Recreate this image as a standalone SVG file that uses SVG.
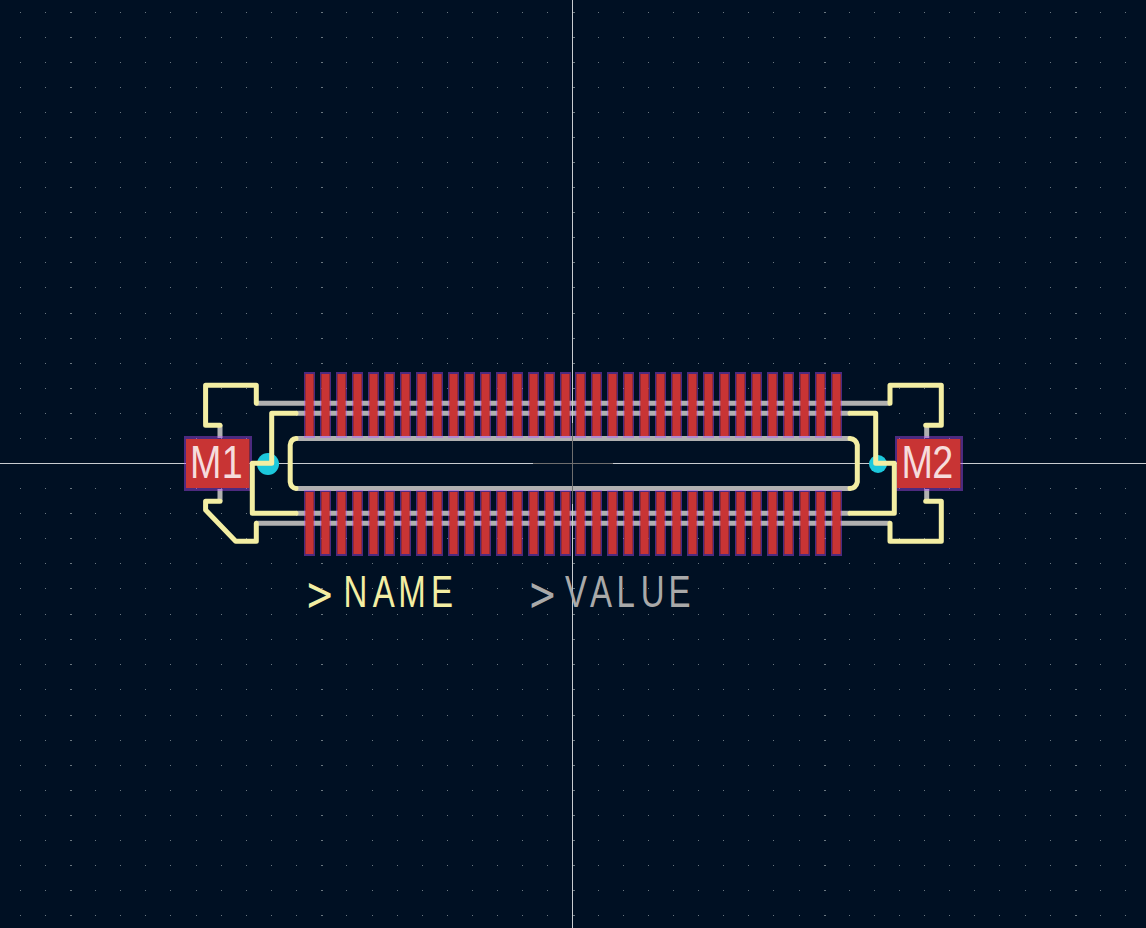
<svg xmlns="http://www.w3.org/2000/svg" width="1146" height="928" viewBox="0 0 1146 928">
<style>
.bg{fill:#001023}
.dot{fill:#6a7780}
.cross{fill:#c8ccd0}
.crossdim{fill:#6e6e6e}
.fab{fill:none;stroke:#b0b0b0;stroke-width:5;stroke-linecap:butt}
.ring{fill:rgb(183,78,254);fill-opacity:.42;fill-rule:evenodd}
.cu{fill:#c83434}
.hole{fill:#1cc8dc}
.silk{fill:none;stroke:#f3eea3;stroke-width:5;stroke-linecap:round;stroke-linejoin:round}
.padtxt{font-family:"Liberation Sans",sans-serif;font-size:46px;fill:#f6dcdc}
.lab{font-family:"Liberation Sans",sans-serif;font-size:44px}
.gt{font-family:"DejaVu Sans",sans-serif;font-size:46px}
</style>
<defs>
<path id="dotrow" class="dot" d="M20 0h1v1h-1zM45 0h1v1h-1zM70 0h2v1h-2zM95 0h1v1h-1zM120 0h1v1h-1zM145 0h1v1h-1zM170 0h1v1h-1zM196 0h1v1h-1zM221 0h1v1h-1zM246 0h1v1h-1zM271 0h1v1h-1zM296 0h1v1h-1zM321 0h2v1h-2zM346 0h1v1h-1zM372 0h1v1h-1zM397 0h1v1h-1zM422 0h1v1h-1zM447 0h1v1h-1zM472 0h1v1h-1zM497 0h1v1h-1zM522 0h1v1h-1zM547 0h1v1h-1zM573 0h2v1h-2zM598 0h1v1h-1zM623 0h1v1h-1zM648 0h1v1h-1zM673 0h1v1h-1zM698 0h1v1h-1zM723 0h1v1h-1zM748 0h1v1h-1zM773 0h1v1h-1zM799 0h1v1h-1zM824 0h2v1h-2zM849 0h1v1h-1zM874 0h1v1h-1zM899 0h1v1h-1zM924 0h1v1h-1zM949 0h1v1h-1zM974 0h1v1h-1zM999 0h1v1h-1zM1025 0h1v1h-1zM1050 0h1v1h-1zM1075 0h2v1h-2zM1100 0h1v1h-1zM1125 0h1v1h-1z"/>
<g id="padT"><path class="ring" d="M0 372h11v66h-11zM1.300 374v62h8.400v-62z"/><rect class="cu" x="1.300" y="374" width="8.400" height="62"/></g>
<g id="padB"><path class="ring" d="M0 490h11v66h-11zM1.300 492v62h8.400v-62z"/><rect class="cu" x="1.300" y="492" width="8.400" height="62"/></g>
<g id="padPair"><use href="#padT"/><use href="#padB"/></g>
</defs>
<rect class="bg" width="1146" height="928"/>
<g id="grid">
<use href="#dotrow" y="12"/><use href="#dotrow" y="37"/><use href="#dotrow" y="62"/><use href="#dotrow" y="87"/><use href="#dotrow" y="112"/><use href="#dotrow" y="137"/><use href="#dotrow" y="162"/><use href="#dotrow" y="187"/><use href="#dotrow" y="212"/><use href="#dotrow" y="237"/><use href="#dotrow" y="262"/><use href="#dotrow" y="287"/><use href="#dotrow" y="313"/><use href="#dotrow" y="338"/><use href="#dotrow" y="363"/><use href="#dotrow" y="388"/><use href="#dotrow" y="413"/><use href="#dotrow" y="438"/><use href="#dotrow" y="463"/><use href="#dotrow" y="488"/><use href="#dotrow" y="513"/><use href="#dotrow" y="538"/><use href="#dotrow" y="563"/><use href="#dotrow" y="588"/><use href="#dotrow" y="614"/><use href="#dotrow" y="639"/><use href="#dotrow" y="664"/><use href="#dotrow" y="689"/><use href="#dotrow" y="715"/><use href="#dotrow" y="740"/><use href="#dotrow" y="765"/><use href="#dotrow" y="790"/><use href="#dotrow" y="815"/><use href="#dotrow" y="840"/><use href="#dotrow" y="865"/><use href="#dotrow" y="890"/><use href="#dotrow" y="915"/>
</g>
<g id="fabrication">
<path class="fab" d="M256 403.3H890M296 413.3H850M296 438.5H850M296 488.5H850M296 513.3H850M256 523.3H890"/>
<path class="fab" d="M220 425V438M220 489V501.5M926.7 425V438M926.7 489V501.5"/>
</g>
<g id="crosshair">
<rect class="cross" x="0" y="463" width="533" height="1"/><rect class="crossdim" x="533" y="463" width="80" height="1"/><rect class="cross" x="613" y="463" width="533" height="1"/>
<rect class="cross" x="572" y="0" width="1" height="423"/><rect class="crossdim" x="572" y="423" width="1" height="81"/><rect class="cross" x="572" y="504" width="1" height="424"/>
</g>
<g id="holes">
<circle class="hole" cx="268" cy="464" r="11"/>
<circle class="hole" cx="878" cy="464" r="9"/>
</g>
<g id="pads">
<use href="#padPair" x="304"/><use href="#padPair" x="320"/><use href="#padPair" x="336"/><use href="#padPair" x="352"/><use href="#padPair" x="368"/><use href="#padPair" x="384"/><use href="#padPair" x="400"/><use href="#padPair" x="416"/><use href="#padPair" x="432"/><use href="#padPair" x="448"/><use href="#padPair" x="464"/><use href="#padPair" x="480"/><use href="#padPair" x="496"/><use href="#padPair" x="512"/><use href="#padPair" x="528"/><use href="#padPair" x="544"/><use href="#padPair" x="560"/>
<use href="#padPair" x="575"/><use href="#padPair" x="591"/><use href="#padPair" x="607"/><use href="#padPair" x="623"/><use href="#padPair" x="639"/><use href="#padPair" x="655"/><use href="#padPair" x="671"/><use href="#padPair" x="687"/><use href="#padPair" x="703"/><use href="#padPair" x="719"/><use href="#padPair" x="735"/><use href="#padPair" x="751"/><use href="#padPair" x="767"/><use href="#padPair" x="783"/><use href="#padPair" x="799"/><use href="#padPair" x="815"/><use href="#padPair" x="831"/>
</g>
<g id="M1">
<path class="ring" d="M184 436h68v55h-68zM186 439v49h63.500v-49z"/><rect class="cu" x="186" y="439" width="63.500" height="49"/>
<text class="padtxt" x="231.600 270.500" y="478" transform="scale(.82 1)">M1</text>
</g>
<g id="M2">
<path class="ring" d="M895 436h68v55h-68zM897 439v49h63.500v-49z"/><rect class="cu" x="897" y="439" width="63.500" height="49"/>
<text class="padtxt" x="1099.500 1137" y="478" transform="scale(.82 1)">M2</text>
</g>
<g id="silkscreen">
<path class="silk" d="M220 425.300H205.600V385.300H256.300V403.300"/>
<path class="silk" d="M296 413.300H271.700V463.300H252.300V513.300H296"/>
<path class="silk" d="M220 501.300H205.600V510L235.700 541.300H256.300V523.300"/>
<path class="silk" d="M296 438.500Q291 439 290.200 445V482Q291 488 296 488.500"/>
<path class="silk" d="M850 438.500Q856 439 857.300 445V482Q856 488 850 488.500"/>
<path class="silk" d="M925.700 425.300H941.300V385.300H890V403.300"/>
<path class="silk" d="M850 413.300H875.700V463.300H894.300V513.300H850"/>
<path class="silk" d="M925.700 501.300H941.300V541.300H890V523.300"/>
</g>
<g id="labels">
<text class="lab" y="607" fill="#f3eea3" transform="scale(.75 1)"><tspan class="gt" x="407.100" dy="3">&gt;</tspan><tspan x="458 497 531 574.700" dy="-3">NAME</tspan></text>
<text class="lab" y="607" fill="#a9a9a9" transform="scale(.75 1)"><tspan class="gt" x="704" dy="3">&gt;</tspan><tspan x="753.300 786.700 822 854.300 891.500" dy="-3">VALUE</tspan></text>
</g>
</svg>
